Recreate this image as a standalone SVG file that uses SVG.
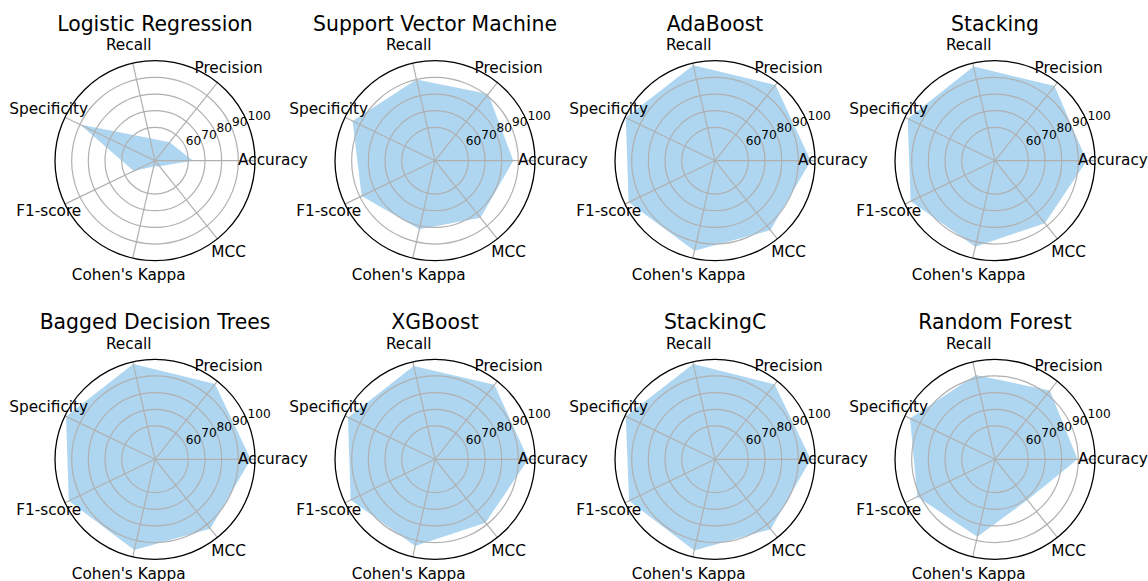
<svg xmlns="http://www.w3.org/2000/svg" xmlns:xlink="http://www.w3.org/1999/xlink" width="1148" height="581" viewBox="0 0 1148 581">
<style>
text{font-family:"DejaVu Sans","Liberation Sans",sans-serif;fill:#000}
.title{font-size:20.4px;text-anchor:middle}
.lab{font-size:15.3px;text-anchor:middle}
.tick{font-size:12.2px;text-anchor:start}
.area{fill:#aed6f1;stroke:none}
.ring{fill:none;stroke:#b0b0b0;stroke-width:1.2}
.spoke{stroke:#b0b0b0;stroke-width:1.2}
.spine{fill:none;stroke:#000;stroke-width:1.3}
</style>
<defs>
<g id="grid">
<circle class="ring" r="33.33"/>
<circle class="ring" r="50"/>
<circle class="ring" r="66.67"/>
<circle class="ring" r="83.33"/>
<line class="spoke" x1="0" y1="0" x2="100" y2="0"/>
<line class="spoke" x1="0" y1="0" x2="62.35" y2="-78.18"/>
<line class="spoke" x1="0" y1="0" x2="-22.25" y2="-97.49"/>
<line class="spoke" x1="0" y1="0" x2="-90.10" y2="-43.39"/>
<line class="spoke" x1="0" y1="0" x2="-90.10" y2="43.39"/>
<line class="spoke" x1="0" y1="0" x2="-22.25" y2="97.49"/>
<line class="spoke" x1="0" y1="0" x2="62.35" y2="78.18"/>
<circle class="spine" r="100"/>
</g>
</defs>

<g id="chart-logistic-regression" transform="translate(155,160.7)">
<polygon class="area" points="38,0 14.65,-18.37 -5.12,-22.42 -75.05,-36.14 -21.17,10.20 -1.34,5.85 4.36,5.47"/>
<use xlink:href="#grid" href="#grid"/>
<text class="title" x="0" y="-130.2">Logistic Regression</text>
<text class="lab" x="118" y="4.3">Accuracy</text>
<text class="lab" x="73.6" y="-88">Precision</text>
<text class="lab" x="-26.3" y="-110.7">Recall</text>
<text class="lab" x="-106.3" y="-46.9">Specificity</text>
<text class="lab" x="-106.3" y="55.5">F1-score</text>
<text class="lab" x="-26.3" y="119.3">Cohen's Kappa</text>
<text class="lab" x="73.6" y="96.6">MCC</text>
<text class="tick" x="30.8" y="-15.6">60</text>
<text class="tick" x="46.2" y="-21.9">70</text>
<text class="tick" x="61.6" y="-28.3">80</text>
<text class="tick" x="77" y="-34.7">90</text>
<text class="tick" x="92.4" y="-41.1">100</text>
</g>

<g id="chart-support-vector-machine" transform="translate(435,160.7)">
<polygon class="area" points="78.3,0 53.25,-66.77 -18.56,-81.31 -82.44,-39.70 -73.34,35.32 -15.66,68.63 45.52,57.07"/>
<use xlink:href="#grid" href="#grid"/>
<text class="title" x="0" y="-130.2">Support Vector Machine</text>
<text class="lab" x="118" y="4.3">Accuracy</text>
<text class="lab" x="73.6" y="-88">Precision</text>
<text class="lab" x="-26.3" y="-110.7">Recall</text>
<text class="lab" x="-106.3" y="-46.9">Specificity</text>
<text class="lab" x="-106.3" y="55.5">F1-score</text>
<text class="lab" x="-26.3" y="119.3">Cohen's Kappa</text>
<text class="lab" x="73.6" y="96.6">MCC</text>
<text class="tick" x="30.8" y="-15.6">60</text>
<text class="tick" x="46.2" y="-21.9">70</text>
<text class="tick" x="61.6" y="-28.3">80</text>
<text class="tick" x="77" y="-34.7">90</text>
<text class="tick" x="92.4" y="-41.1">100</text>
</g>

<g id="chart-adaboost" transform="translate(715,160.7)">
<polygon class="area" points="95.7,0 60.42,-75.76 -21.81,-95.54 -89.20,-42.96 -86.41,41.61 -20.56,90.08 55.43,69.50"/>
<use xlink:href="#grid" href="#grid"/>
<text class="title" x="0" y="-130.2">AdaBoost</text>
<text class="lab" x="118" y="4.3">Accuracy</text>
<text class="lab" x="73.6" y="-88">Precision</text>
<text class="lab" x="-26.3" y="-110.7">Recall</text>
<text class="lab" x="-106.3" y="-46.9">Specificity</text>
<text class="lab" x="-106.3" y="55.5">F1-score</text>
<text class="lab" x="-26.3" y="119.3">Cohen's Kappa</text>
<text class="lab" x="73.6" y="96.6">MCC</text>
<text class="tick" x="30.8" y="-15.6">60</text>
<text class="tick" x="46.2" y="-21.9">70</text>
<text class="tick" x="61.6" y="-28.3">80</text>
<text class="tick" x="77" y="-34.7">90</text>
<text class="tick" x="92.4" y="-41.1">100</text>
</g>

<g id="chart-stacking" transform="translate(995,160.7)">
<polygon class="area" points="91.7,0 59.54,-74.66 -21.47,-94.08 -87.31,-42.04 -84.33,40.61 -19.65,86.08 49.88,62.54"/>
<use xlink:href="#grid" href="#grid"/>
<text class="title" x="0" y="-130.2">Stacking</text>
<text class="lab" x="118" y="4.3">Accuracy</text>
<text class="lab" x="73.6" y="-88">Precision</text>
<text class="lab" x="-26.3" y="-110.7">Recall</text>
<text class="lab" x="-106.3" y="-46.9">Specificity</text>
<text class="lab" x="-106.3" y="55.5">F1-score</text>
<text class="lab" x="-26.3" y="119.3">Cohen's Kappa</text>
<text class="lab" x="73.6" y="96.6">MCC</text>
<text class="tick" x="30.8" y="-15.6">60</text>
<text class="tick" x="46.2" y="-21.9">70</text>
<text class="tick" x="61.6" y="-28.3">80</text>
<text class="tick" x="77" y="-34.7">90</text>
<text class="tick" x="92.4" y="-41.1">100</text>
</g>

<g id="chart-bagged-decision-trees" transform="translate(155,459.3)">
<polygon class="area" points="95.7,0 59.98,-75.21 -21.74,-95.25 -88.93,-42.83 -86.23,41.52 -20.69,90.67 55.30,69.35"/>
<use xlink:href="#grid" href="#grid"/>
<text class="title" x="0" y="-130.2">Bagged Decision Trees</text>
<text class="lab" x="118" y="4.3">Accuracy</text>
<text class="lab" x="73.6" y="-88">Precision</text>
<text class="lab" x="-26.3" y="-110.7">Recall</text>
<text class="lab" x="-106.3" y="-46.9">Specificity</text>
<text class="lab" x="-106.3" y="55.5">F1-score</text>
<text class="lab" x="-26.3" y="119.3">Cohen's Kappa</text>
<text class="lab" x="73.6" y="96.6">MCC</text>
<text class="tick" x="30.8" y="-15.6">60</text>
<text class="tick" x="46.2" y="-21.9">70</text>
<text class="tick" x="61.6" y="-28.3">80</text>
<text class="tick" x="77" y="-34.7">90</text>
<text class="tick" x="92.4" y="-41.1">100</text>
</g>

<g id="chart-xgboost" transform="translate(435,459.3)">
<polygon class="area" points="93.3,0 59.42,-74.51 -21.32,-93.40 -87.04,-41.91 -84.33,40.61 -19.78,86.67 50.50,63.33"/>
<use xlink:href="#grid" href="#grid"/>
<text class="title" x="0" y="-130.2">XGBoost</text>
<text class="lab" x="118" y="4.3">Accuracy</text>
<text class="lab" x="73.6" y="-88">Precision</text>
<text class="lab" x="-26.3" y="-110.7">Recall</text>
<text class="lab" x="-106.3" y="-46.9">Specificity</text>
<text class="lab" x="-106.3" y="55.5">F1-score</text>
<text class="lab" x="-26.3" y="119.3">Cohen's Kappa</text>
<text class="lab" x="73.6" y="96.6">MCC</text>
<text class="tick" x="30.8" y="-15.6">60</text>
<text class="tick" x="46.2" y="-21.9">70</text>
<text class="tick" x="61.6" y="-28.3">80</text>
<text class="tick" x="77" y="-34.7">90</text>
<text class="tick" x="92.4" y="-41.1">100</text>
</g>

<g id="chart-stackingc" transform="translate(715,459.3)">
<polygon class="area" points="95.7,0 59.67,-74.82 -21.74,-95.25 -89.20,-42.96 -85.96,41.39 -20.83,91.25 55.74,69.89"/>
<use xlink:href="#grid" href="#grid"/>
<text class="title" x="0" y="-130.2">StackingC</text>
<text class="lab" x="118" y="4.3">Accuracy</text>
<text class="lab" x="73.6" y="-88">Precision</text>
<text class="lab" x="-26.3" y="-110.7">Recall</text>
<text class="lab" x="-106.3" y="-46.9">Specificity</text>
<text class="lab" x="-106.3" y="55.5">F1-score</text>
<text class="lab" x="-26.3" y="119.3">Cohen's Kappa</text>
<text class="lab" x="73.6" y="96.6">MCC</text>
<text class="tick" x="30.8" y="-15.6">60</text>
<text class="tick" x="46.2" y="-21.9">70</text>
<text class="tick" x="61.6" y="-28.3">80</text>
<text class="tick" x="77" y="-34.7">90</text>
<text class="tick" x="92.4" y="-41.1">100</text>
</g>

<g id="chart-random-forest" transform="translate(995,459.3)">
<polygon class="area" points="82.5,0 54.87,-68.80 -19.25,-84.33 -84.96,-40.92 -77.67,37.40 -17.69,77.50 32.42,40.65"/>
<use xlink:href="#grid" href="#grid"/>
<text class="title" x="0" y="-130.2">Random Forest</text>
<text class="lab" x="118" y="4.3">Accuracy</text>
<text class="lab" x="73.6" y="-88">Precision</text>
<text class="lab" x="-26.3" y="-110.7">Recall</text>
<text class="lab" x="-106.3" y="-46.9">Specificity</text>
<text class="lab" x="-106.3" y="55.5">F1-score</text>
<text class="lab" x="-26.3" y="119.3">Cohen's Kappa</text>
<text class="lab" x="73.6" y="96.6">MCC</text>
<text class="tick" x="30.8" y="-15.6">60</text>
<text class="tick" x="46.2" y="-21.9">70</text>
<text class="tick" x="61.6" y="-28.3">80</text>
<text class="tick" x="77" y="-34.7">90</text>
<text class="tick" x="92.4" y="-41.1">100</text>
</g>

<g id="connectors"></g>
</svg>
